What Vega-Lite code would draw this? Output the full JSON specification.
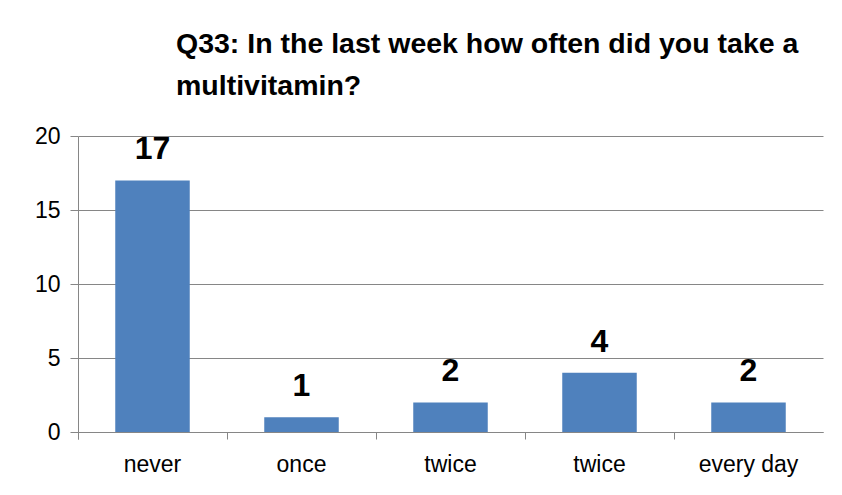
{
  "$schema": "https://vega.github.io/schema/vega-lite/v6.json",
  "width": 745,
  "height": 296,
  "autosize": {"type": "none"},
  "padding": {"left": 78, "top": 136, "right": 19, "bottom": 63},
  "background": "white",
  "config": {
    "view": {"stroke": null},
    "font": "Liberation Sans"
  },
  "title": {
    "text": ["Q33: In the last week how often did you take a", "multivitamin?"],
    "anchor": "start",
    "frame": "group",
    "dx": 98,
    "fontSize": 28.5,
    "fontWeight": "bold",
    "font": "Liberation Sans",
    "color": "#000000",
    "lineHeight": 42,
    "offset": 25
  },
  "data": {
    "values": [
      {"key": "a", "label": "never", "count": 17},
      {"key": "b", "label": "once", "count": 1},
      {"key": "c", "label": "twice", "count": 2},
      {"key": "d", "label": "twice", "count": 4},
      {"key": "e", "label": "every day", "count": 2}
    ]
  },
  "encoding": {
    "x": {
      "field": "key",
      "type": "nominal",
      "sort": null,
      "scale": {"paddingInner": 0, "paddingOuter": 0},
      "axis": {
        "title": null,
        "labelAngle": 0,
        "labelExpr": "{'a':'never','b':'once','c':'twice','d':'twice','e':'every day'}[datum.value]",
        "labelFontSize": 23,
        "labelColor": "#000000",
        "labelPadding": 14,
        "bandPosition": 0,
        "tickExtra": true,
        "tickSize": 7,
        "tickColor": "#868686",
        "domainColor": "#868686",
        "grid": false
      }
    },
    "y": {
      "field": "count",
      "type": "quantitative",
      "scale": {"domain": [0, 20]},
      "axis": {
        "title": null,
        "values": [0, 5, 10, 15, 20],
        "labelFontSize": 23,
        "labelColor": "#000000",
        "labelPadding": 10,
        "tickSize": 8,
        "tickColor": "#868686",
        "domainColor": "#868686",
        "gridColor": "#868686",
        "grid": true
      }
    }
  },
  "layer": [
    {"mark": {"type": "bar", "color": "#4F81BD", "width": {"band": 0.5}}},
    {
      "mark": {
        "type": "text",
        "baseline": "alphabetic",
        "dy": -21,
        "fontSize": 32,
        "fontWeight": "bold",
        "color": "#000000"
      },
      "encoding": {"text": {"field": "count", "type": "quantitative"}}
    }
  ]
}
